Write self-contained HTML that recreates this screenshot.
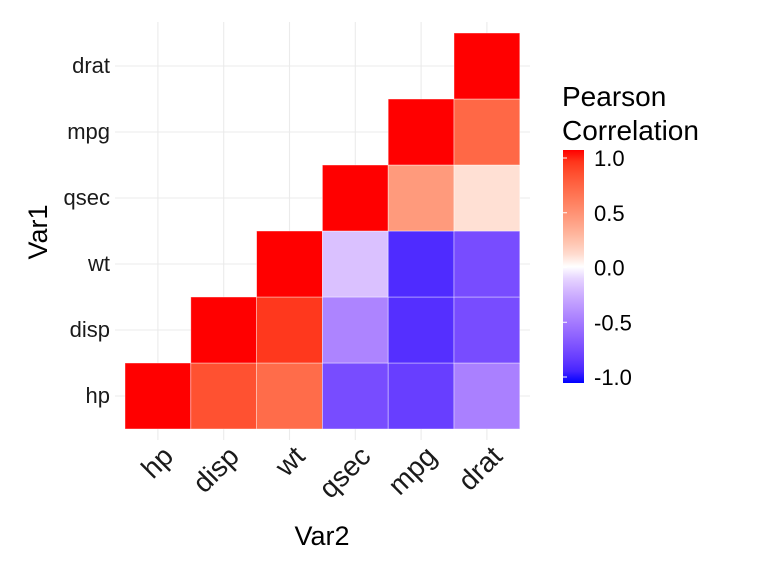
<!DOCTYPE html>
<html><head><meta charset="utf-8"><style>
body{margin:0;background:#fff}
svg text{font-family:"Liberation Sans",Arial,sans-serif}
</style></head><body>
<svg id="chart" width="768" height="576" viewBox="0 0 768 576" xmlns="http://www.w3.org/2000/svg">
<defs><linearGradient id="lg" x1="0" y1="1" x2="0" y2="0"></linearGradient></defs>
<g id="grid"></g>
<g id="cells"></g>
<g id="yticks"></g>
<g id="xticks"></g>
<text x="322" y="545" font-size="27" text-anchor="middle">Var2</text>
<text transform="translate(47,232) rotate(-90)" font-size="27" text-anchor="middle">Var1</text>
<g>
<text x="562" y="106" font-size="28">Pearson</text>
<text x="562" y="140" font-size="28">Correlation</text>
<rect x="563" y="150" width="21" height="233" fill="url(#lg)"/>
<g id="legticks"></g>
</g>
</svg>
<script>
const vars = ["hp","disp","wt","qsec","mpg","drat"];
const corrHp = [1, 0.79, 0.66, -0.71, -0.78, -0.45];
const corrDisp = [0.79, 1, 0.89, -0.43, -0.85, -0.71];
const corrWt = [0.66, 0.89, 1, -0.17, -0.87, -0.71];
const corrQsec = [-0.71, -0.43, -0.17, 1, 0.42, 0.09];
const corrMpg = [-0.78, -0.85, -0.87, 0.42, 1, 0.68];
const corrDrat = [-0.45, -0.71, -0.71, 0.09, 0.68, 1];
const legendTicks = [1.0, 0.5, 0.0, -0.5, -1.0];
const legendLabels = ["1.0","0.5","0.0","-0.5","-1.0"];
const matrix = [corrHp, corrDisp, corrWt, corrQsec, corrMpg, corrDrat];
const NS="http://www.w3.org/2000/svg";
const x0=125, cw=65.8, yb=429, ch=66;
const xPos=i=>x0+i*cw, yPos=j=>yb-(j+1)*ch;
function toLab(r,g,b){const f=c=>{c/=255;return c<=0.04045?c/12.92:Math.pow((c+0.055)/1.055,2.4)};
 r=f(r);g=f(g);b=f(b);let X=(r*0.4124+g*0.3576+b*0.1805)/0.95047,Y=r*0.2126+g*0.7152+b*0.0722,Z=(r*0.0193+g*0.1192+b*0.9505)/1.08883;
 const h=t=>t>0.008856?Math.cbrt(t):7.787*t+16/116;X=h(X);Y=h(Y);Z=h(Z);return [116*Y-16,500*(X-Y),200*(Y-Z)];}
function fromLab(L,a,bb){let Y=(L+16)/116,X=a/500+Y,Z=Y-bb/200;const h=t=>t*t*t>0.008856?t*t*t:(t-16/116)/7.787;
 X=h(X)*0.95047;Y=h(Y);Z=h(Z)*1.08883;let r=X*3.2406+Y*-1.5372+Z*-0.4986,g=X*-0.9689+Y*1.8758+Z*0.0415,b=X*0.0557+Y*-0.2040+Z*1.0570;
 const f=c=>{c=Math.max(0,Math.min(1,c));c=c>0.0031308?1.055*Math.pow(c,1/2.4)-0.055:12.92*c;return Math.round(Math.max(0,Math.min(1,c))*255)};return `rgb(${f(r)},${f(g)},${f(b)})`;}
const W=toLab(255,255,255),R=toLab(255,0,0),B=toLab(0,0,255);
function col(v){const e=v>=0?R:B,t=Math.pow(Math.abs(v),0.75);return fromLab(W[0]+(e[0]-W[0])*t,W[1]+(e[1]-W[1])*t,W[2]+(e[2]-W[2])*t);}
const grid=document.getElementById('grid');
for(let i=0;i<6;i++){
 const l=document.createElementNS(NS,'line');
 
 
 l.setAttribute('x1',xPos(i)+cw/2);l.setAttribute('x2',xPos(i)+cw/2);l.setAttribute('y1',22);l.setAttribute('y2',440);
 l.setAttribute('stroke','#ebebeb');l.setAttribute('stroke-width','1.1');grid.appendChild(l);
 const m=document.createElementNS(NS,'line');
 
 
 m.setAttribute('y1',yPos(i)+ch/2);m.setAttribute('y2',yPos(i)+ch/2);m.setAttribute('x1',115);m.setAttribute('x2',530);
 m.setAttribute('stroke','#ebebeb');m.setAttribute('stroke-width','1.1');grid.appendChild(m);
}
const cells=document.getElementById('cells');
for(let j=0;j<6;j++)for(let i=j;i<6;i++){
 const r=document.createElementNS(NS,'rect');
 
 
 r.setAttribute('x',xPos(i));r.setAttribute('y',yPos(j));r.setAttribute('width',cw);r.setAttribute('height',ch);
 r.setAttribute('fill',col(matrix[j][i]));r.setAttribute('stroke','#fff');r.setAttribute('stroke-opacity','0.5');r.setAttribute('stroke-width','0.8');cells.appendChild(r);
}
const yt=document.getElementById('yticks'),xt=document.getElementById('xticks');
vars.forEach((v,k)=>{
 const t=document.createElementNS(NS,'text');
 
 
 t.setAttribute('x',110);t.setAttribute('y',yPos(k)+ch/2+7);t.setAttribute('font-size','22');t.setAttribute('text-anchor','end');t.setAttribute('fill','#1a1a1a');
 t.textContent=v;yt.appendChild(t);
 const s=document.createElementNS(NS,'text');
 
 
 const cx=xPos(k)+cw/2+17, cy=458;
 s.setAttribute('transform',`translate(${cx},${cy}) rotate(-45)`);s.setAttribute('font-size','28');s.setAttribute('text-anchor','end');s.setAttribute('fill','#1a1a1a');
 s.textContent=v;xt.appendChild(s);
});
const lg=document.getElementById('lg');
for(let k=0;k<=20;k++){const v=-1+k*0.1;const st=document.createElementNS(NS,'stop');st.setAttribute('offset',(k/20));st.setAttribute('stop-color',col(v));lg.appendChild(st);}
const lt=document.getElementById('legticks');
const ly=v=>267.5-v*109.5;
legendTicks.forEach((v,k)=>{
 const t=document.createElementNS(NS,'text');
 
 
 t.setAttribute('x',594);t.setAttribute('y',ly(v)+8);t.setAttribute('font-size','22');t.textContent=legendLabels[k];lt.appendChild(t);
 const a=document.createElementNS(NS,'line');
 
 
 a.setAttribute('x1',563);a.setAttribute('x2',567);a.setAttribute('y1',ly(v));a.setAttribute('y2',ly(v));a.setAttribute('stroke','#fff');lt.appendChild(a);
});
</script>
</body></html>
